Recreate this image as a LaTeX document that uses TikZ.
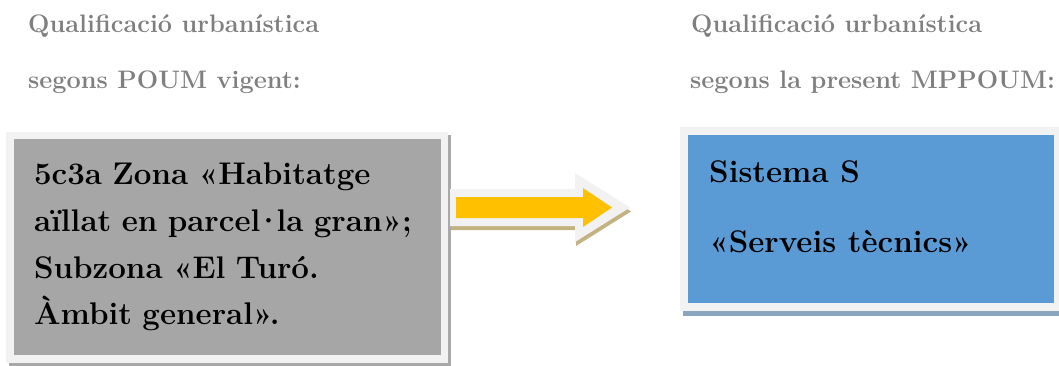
\documentclass[tikz,border=0pt]{standalone}
\usepackage{xcolor}
\usepackage{tikz}
\usetikzlibrary{shadows}
\definecolor{headgray}{HTML}{7F7F7F}
\definecolor{framegray}{HTML}{F2F2F2}
\definecolor{oldgray}{HTML}{A6A6A6}
\definecolor{oldshade}{HTML}{A9A9A9}
\definecolor{newblue}{HTML}{5B9BD5}
\definecolor{newshade}{HTML}{8BA5BF}
\definecolor{arrowyellow}{HTML}{FFC000}
\definecolor{arrowshade}{HTML}{C4B382}
\newcommand{\geminada}{\kern-.18em·\kern-.18em}

\begin{document}
\begin{tikzpicture}[x=1pt, y=-1pt,
  head/.style={anchor=base west, text=headgray, inner sep=0pt,
    font=\fontsize{25.3}{30}\selectfont\bfseries},
  frame/.style={rectangle, fill=framegray, inner sep=0pt},
  box/.style={rectangle, inner sep=0pt,
    font=\fontsize{31.3}{46.7}\selectfont\bfseries}
]
  \useasboundingbox (0,0) rectangle (1059,365);

  \node[head] (oldhead1) at (28,32) {Qualificació urbanística};
  \node[head] (oldhead2) at (28,88) {segons POUM vigent:};
  \node[head] (newhead1) at (691,32) {Qualificació urbanística};
  \node[head] (newhead2) at (690,88) {segons la present MPPOUM:};

  \node[frame, minimum width=442pt, minimum height=231pt,
    drop shadow={shadow xshift=3pt, shadow yshift=-3pt, fill=oldshade, opacity=1}]
    (oldframe) at (227,247.5) {};
  \node[box, fill=oldgray, minimum width=427pt, minimum height=216pt,
    text width=387pt, inner xsep=20pt, align=left] (oldbox) at (227.5,247)
    {5c3a Zona «Habitatge\\aïllat en parcel\geminada la gran»;\\Subzona «El Turó.\\Àmbit general».};

  \node[frame, minimum width=382pt, minimum height=184pt,
    drop shadow={shadow xshift=3pt, shadow yshift=-5pt, fill=newshade, opacity=1}]
    (newframe) at (871,219) {};
  \node[box, fill=newblue, minimum width=366pt, minimum height=168pt] (newbox) at (871,219) {};
  \node[box, anchor=base west] (newline1) at (709,182) {Sistema S};
  \node[box, anchor=base west] (newline2) at (709,252) {«Serveis tècnics»};

  \fill[arrowshade, shift={(1,4)}] (450,189) -- (575,189) -- (575,173) -- (630,207.5)
    -- (575,242) -- (575,226) -- (450,226) -- cycle;
  \fill[framegray] (450,189) -- (575,189) -- (575,173) -- (630,207.5)
    -- (575,242) -- (575,226) -- (450,226) -- cycle;
  \fill[arrowyellow] (456,197) -- (583,197) -- (583,188) -- (612,207.5)
    -- (583,227) -- (583,218) -- (456,218) -- cycle;
\end{tikzpicture}
\end{document}
